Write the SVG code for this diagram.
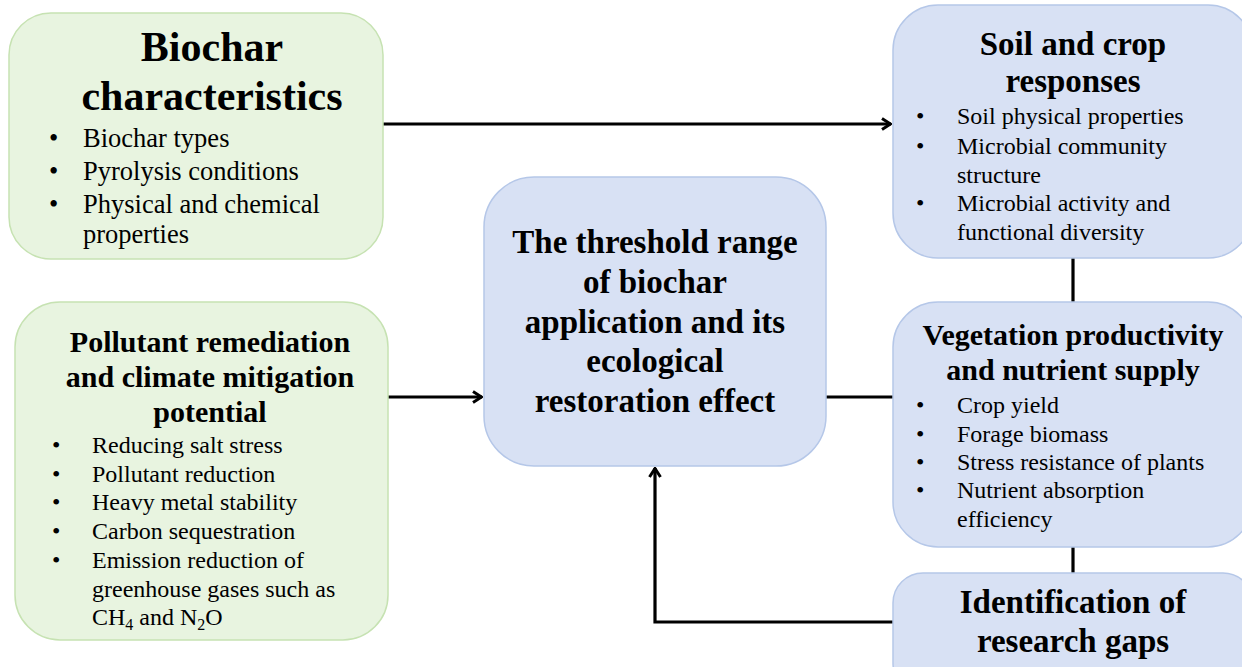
<svg xmlns="http://www.w3.org/2000/svg" width="1242" height="667" viewBox="0 0 1242 667" font-family="'Liberation Serif', Tinos, 'Times New Roman', serif">
<defs>
<style>
.g{fill:#e8f4e0;stroke:#c6e2b2;stroke-width:1.5}
.b{fill:#d8e1f4;stroke:#b5c7e8;stroke-width:1.5}
text{font-family:'Liberation Serif', Tinos, 'Times New Roman', serif;fill:#000}
.t{font-weight:bold;text-anchor:middle}
.l{stroke:#000;stroke-width:3.2;fill:none}
</style>
<marker id="arr" viewBox="0 0 12 14" refX="11" refY="7" markerWidth="12" markerHeight="14" markerUnits="userSpaceOnUse" orient="auto">
<path d="M2,1.5 L10.5,7 L2,12.5" fill="none" stroke="#000" stroke-width="3"/>
</marker>
</defs>
<rect width="1242" height="667" fill="#fff"/>

<g id="connectors">
<line class="l" x1="383" y1="124" x2="891" y2="124" marker-end="url(#arr)"/>
<line class="l" x1="388" y1="397" x2="482" y2="397" marker-end="url(#arr)"/>
<line class="l" x1="826" y1="397" x2="893" y2="397"/>
<line class="l" x1="1073" y1="258" x2="1073" y2="302"/>
<line class="l" x1="1073" y1="547" x2="1073" y2="573"/>
<polyline class="l" points="893,622 655,622 655,468" marker-end="url(#arr)"/>
</g>

<g id="biochar">
<rect class="g" x="9" y="13" width="374" height="246" rx="42"/>
<text class="t" x="212" y="61" font-size="42">Biochar</text>
<text class="t" x="212" y="110" font-size="42">characteristics</text>
<g font-size="26.5">
<text x="49" y="147">•</text><text x="83" y="147">Biochar types</text>
<text x="49" y="180">•</text><text x="83" y="180">Pyrolysis conditions</text>
<text x="49" y="213">•</text><text x="83" y="213">Physical and chemical</text>
<text x="83" y="243">properties</text>
</g>
</g>

<g id="pollutant">
<rect class="g" x="15" y="302" width="373" height="338" rx="45"/>
<text class="t" x="210" y="352" font-size="30">Pollutant remediation</text>
<text class="t" x="210" y="387" font-size="30">and climate mitigation</text>
<text class="t" x="210" y="422" font-size="30">potential</text>
<g font-size="24">
<text x="52" y="453">•</text><text x="92" y="453">Reducing salt stress</text>
<text x="52" y="482">•</text><text x="92" y="482">Pollutant reduction</text>
<text x="52" y="510">•</text><text x="92" y="510">Heavy metal stability</text>
<text x="52" y="539">•</text><text x="92" y="539">Carbon sequestration</text>
<text x="52" y="568">•</text><text x="92" y="568">Emission reduction of</text>
<text x="92" y="597">greenhouse gases such as</text>
<text x="92" y="625">CH<tspan font-size="16" dy="5">4</tspan><tspan dy="-5"> and N</tspan><tspan font-size="16" dy="5">2</tspan><tspan dy="-5">O</tspan></text>
</g>
</g>

<g id="threshold">
<rect class="b" x="484" y="177" width="342" height="289" rx="50"/>
<g font-size="33">
<text class="t" x="655" y="253">The threshold range</text>
<text class="t" x="655" y="293">of biochar</text>
<text class="t" x="655" y="333">application and its</text>
<text class="t" x="655" y="372">ecological</text>
<text class="t" x="655" y="412">restoration effect</text>
</g>
</g>

<g id="soil">
<rect class="b" x="893" y="5" width="360" height="253" rx="45"/>
<text class="t" x="1073" y="55" font-size="33">Soil and crop</text>
<text class="t" x="1073" y="92" font-size="33">responses</text>
<g font-size="24">
<text x="916" y="124">•</text><text x="957" y="124">Soil physical properties</text>
<text x="916" y="154">•</text><text x="957" y="154">Microbial community</text>
<text x="957" y="183">structure</text>
<text x="916" y="211">•</text><text x="957" y="211">Microbial activity and</text>
<text x="957" y="240">functional diversity</text>
</g>
</g>

<g id="vegetation">
<rect class="b" x="893" y="302" width="360" height="245" rx="45"/>
<text class="t" x="1073" y="345" font-size="30">Vegetation productivity</text>
<text class="t" x="1073" y="380" font-size="30">and nutrient supply</text>
<g font-size="24">
<text x="916" y="413">•</text><text x="957" y="413">Crop yield</text>
<text x="916" y="442">•</text><text x="957" y="442">Forage biomass</text>
<text x="916" y="470">•</text><text x="957" y="470">Stress resistance of plants</text>
<text x="916" y="498">•</text><text x="957" y="498">Nutrient absorption</text>
<text x="957" y="527">efficiency</text>
</g>
</g>

<g id="gaps">
<rect class="b" x="893" y="573" width="360" height="120" rx="30"/>
<text class="t" x="1073" y="613" font-size="33">Identification of</text>
<text class="t" x="1073" y="652" font-size="33">research gaps</text>
</g>
</svg>
